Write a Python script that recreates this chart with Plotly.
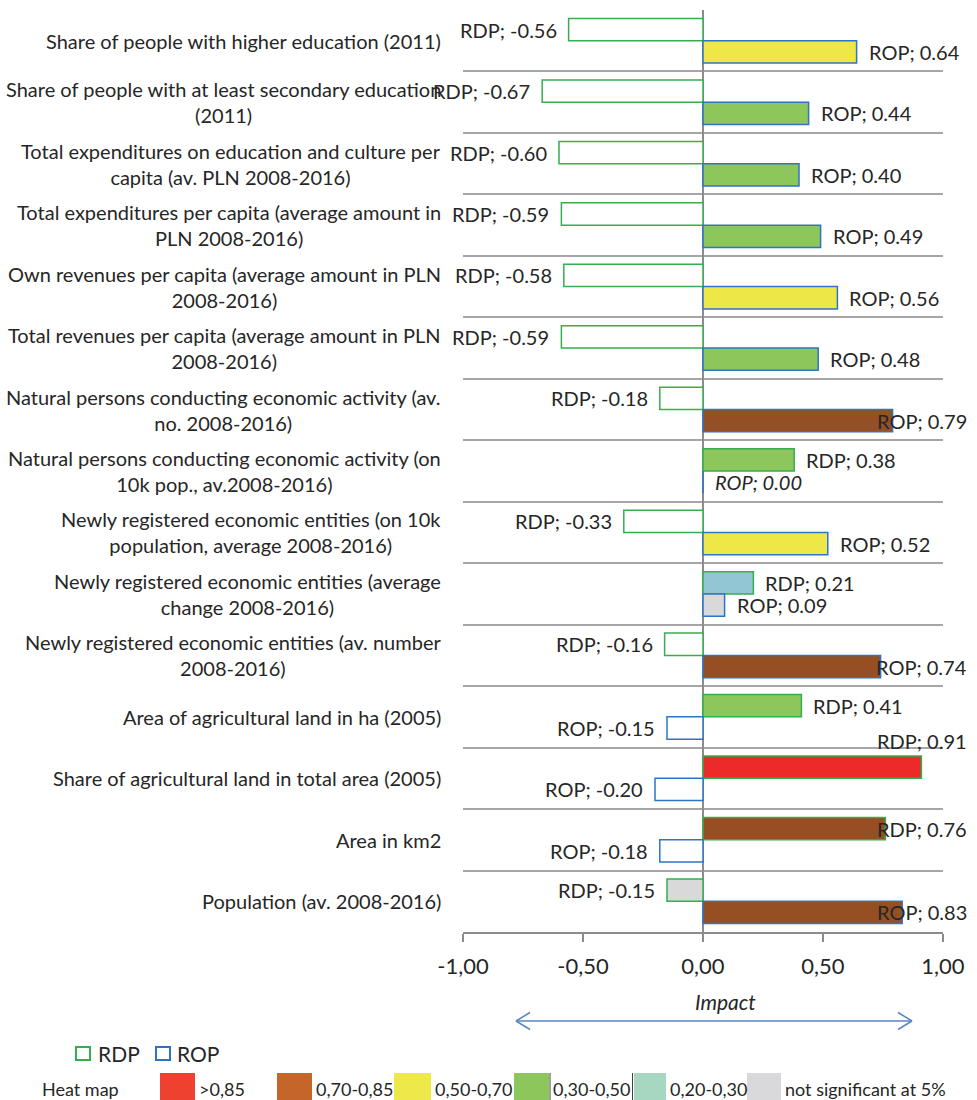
import plotly.graph_objects as go

# ---------------- data ----------------
categories = [
    "Share of people with higher education (2011)",
    "Share of people with at least secondary education<br>(2011)",
    "Total expenditures on education and culture per<br>capita (av. PLN 2008-2016)",
    "Total expenditures per capita (average amount in<br>PLN 2008-2016)",
    "Own revenues per capita (average amount in PLN<br>2008-2016)",
    "Total revenues per capita (average amount in PLN<br>2008-2016)",
    "Natural persons conducting economic activity (av.<br>no. 2008-2016)",
    "Natural persons conducting economic activity (on<br>10k pop., av.2008-2016)",
    "Newly registered economic entities (on 10k<br>population, average 2008-2016)",
    "Newly registered economic entities (average<br>change 2008-2016)",
    "Newly registered economic entities (av. number<br>2008-2016)",
    "Area of agricultural land in ha (2005)",
    "Share of agricultural land in total area (2005)",
    "Area in km2",
    "Population (av. 2008-2016)",
]
rdp_values = [-0.56, -0.67, -0.60, -0.59, -0.58, -0.59, -0.18, 0.38, -0.33, 0.21,
              -0.16, 0.41, 0.91, 0.76, -0.15]
rop_values = [0.64, 0.44, 0.40, 0.49, 0.56, 0.48, 0.79, 0.00, 0.52, 0.09,
              0.74, -0.15, -0.20, -0.18, 0.83]
rdp_class = ["neg", "neg", "neg", "neg", "neg", "neg", "neg", "0,30-0,50", "neg",
             "0,20-0,30", "neg", "0,30-0,50", ">0,85", "0,70-0,85", "ns"]
rop_class = ["0,50-0,70", "0,30-0,50", "0,30-0,50", "0,30-0,50", "0,50-0,70",
             "0,30-0,50", "0,70-0,85", "neg", "0,50-0,70", "ns", "0,70-0,85",
             "neg", "neg", "neg", "0,70-0,85"]
heat_keys = [">0,85", "0,70-0,85", "0,50-0,70", "0,30-0,50", "0,20-0,30", "ns"]
heat_labels = [">0,85", "0,70-0,85", "0,50-0,70", "0,30-0,50", "0,20-0,30",
               "not significant at 5%"]
tick_values = [-1.0, -0.5, 0.0, 0.5, 1.0]
tick_labels = ["-1,00", "-0,50", "0,00", "0,50", "1,00"]

# ---------------- styles ----------------
bar_fill = {">0,85": "#EC2A29", "0,70-0,85": "#954F23", "0,50-0,70": "#EDE847",
            "0,30-0,50": "#8DC65A", "0,20-0,30": "#93C6D4", "ns": "#D9D9D9",
            "neg": "#FFFFFF"}
legend_fill = {">0,85": "#EE4130", "0,70-0,85": "#C4662A", "0,50-0,70": "#EEE84A",
               "0,30-0,50": "#8DC65A", "0,20-0,30": "#A6D7C0", "ns": "#D9D9DB"}
RDP_LINE = "#35AE4E"
ROP_LINE = "#2F74C4"
TXT = "#262626"
GRID = "#A6A6A6"
FONT = "Lato"
NARROW = "Liberation Sans Narrow, Lato"

W, H = 977, 1100
L, R, T, B = 463, 943, 10, 932
BARGAP = 0.275


def px2x(px):
    return (px - L) / (R - L)


def py2y(py):
    return (B - py) / (B - T)


fig = go.Figure()
fig.add_trace(go.Bar(
    y=categories, x=rdp_values, orientation="h", name="RDP",
    marker=dict(color=[bar_fill[c] for c in rdp_class],
                line=dict(color=RDP_LINE, width=1.5)),
    hoverinfo="x+y",
))
fig.add_trace(go.Bar(
    y=categories, x=rop_values, orientation="h", name="ROP",
    marker=dict(color=[bar_fill[c] for c in rop_class],
                line=dict(color=ROP_LINE, width=1.5)),
    hoverinfo="x+y",
))

annotations = []
shapes = []

# category labels (right-aligned block, centred lines)
for cat in categories:
    annotations.append(dict(
        xref="paper", yref="y", x=0, y=cat, xanchor="right", yanchor="middle",
        xshift=-20, align="center", text=cat, showarrow=False,
        font=dict(family=FONT, size=20, color=TXT)))

# data labels
cat_px = (B - T) / len(categories)
offset = (1 - BARGAP) * cat_px / 4
for name, vals, ysh in (("RDP", rdp_values, offset), ("ROP", rop_values, -offset)):
    for cat, v in zip(categories, vals):
        text = f"{name}; {v:.2f}"
        if v == 0:
            text = f"<i>{text}</i>"
        extra = 0
        if v < 0:
            x, xa, xs = v, "right", -10
        elif v > 0.7:
            x, xa, xs = 1.0, "right", 26
            if v > 0.85:
                extra = 26
        else:
            x, xa, xs = v, "left", 10
        annotations.append(dict(
            xref="x", yref="y", x=x, y=cat, xanchor=xa, yanchor="middle",
            xshift=xs, yshift=ysh + extra, text=text, showarrow=False,
            font=dict(family=FONT, size=20, color=TXT)))

# axis title
annotations.append(dict(
    xref="paper", yref="paper", x=px2x(725), y=py2y(1001), xanchor="center",
    yanchor="middle", text="<i>Impact</i>", showarrow=False,
    font=dict(family=FONT, size=21, color=TXT)))

# double arrow under the axis
ARROW = "#5A86C5"
ay = 1021
shapes.append(dict(type="line", xref="paper", yref="paper", x0=px2x(516), x1=px2x(912),
                   y0=py2y(ay), y1=py2y(ay), line=dict(color=ARROW, width=1.5)))
for tip, arm in ((516, 530), (912, 898)):
    for dy in (-8.5, 8.5):
        shapes.append(dict(type="line", xref="paper", yref="paper",
                           x0=px2x(tip), x1=px2x(arm), y0=py2y(ay), y1=py2y(ay + dy),
                           line=dict(color=ARROW, width=1.5)))

# legend row 1 : RDP / ROP hollow squares
for (x0, x1, col, lab, tx) in ((76, 90, RDP_LINE, "RDP", 96), (156, 170, ROP_LINE, "ROP", 175)):
    shapes.append(dict(type="rect", xref="paper", yref="paper",
                       x0=px2x(x0), x1=px2x(x1), y0=py2y(1060), y1=py2y(1047),
                       line=dict(color=col, width=2), fillcolor="white"))
    annotations.append(dict(xref="paper", yref="paper", x=px2x(tx), y=py2y(1053),
                            xanchor="left", yanchor="middle", text=lab, showarrow=False,
                            font=dict(family=FONT, size=21, color=TXT)))

# legend row 2 : heat map key
annotations.append(dict(xref="paper", yref="paper", x=px2x(40), y=py2y(1089),
                        xanchor="left", yanchor="middle", text="Heat map", showarrow=False,
                        font=dict(family=NARROW, size=18, color=TXT)))
swatch_x = [(160, 195), (277, 312), (394, 431), (514, 549), (634, 666), (747, 781)]
for key, lab, (x0, x1) in zip(heat_keys, heat_labels, swatch_x):
    shapes.append(dict(type="rect", xref="paper", yref="paper",
                       x0=px2x(x0), x1=px2x(x1), y0=py2y(1106), y1=py2y(1073),
                       line=dict(width=0), fillcolor=legend_fill[key]))
    annotations.append(dict(xref="paper", yref="paper", x=px2x(x1 + 2), y=py2y(1089),
                            xanchor="left", yanchor="middle", text=lab, showarrow=False,
                            font=dict(family=NARROW, size=18, color=TXT)))
for sx in (550, 632.5):
    shapes.append(dict(type="line", xref="paper", yref="paper",
                       x0=px2x(sx), x1=px2x(sx), y0=py2y(1106), y1=py2y(1073),
                       line=dict(color="#404040", width=1)))

fig.update_layout(
    width=W, height=H,
    margin=dict(l=L, r=W - R, t=T, b=H - B, pad=0),
    paper_bgcolor="white", plot_bgcolor="white",
    barmode="group", bargap=BARGAP, bargroupgap=0,
    showlegend=False,
    font=dict(family=FONT, color=TXT),
    annotations=annotations, shapes=shapes,
    xaxis=dict(range=[-1, 1], tickvals=tick_values, ticktext=tick_labels,
               ticks="outside", ticklen=8, tickwidth=2, tickcolor="#8C8C8C",
               showline=True, linecolor="#8C8C8C", linewidth=2,
               showgrid=False, zeroline=True, zerolinecolor="#8C8C8C", zerolinewidth=2,
               tickfont=dict(family=FONT, size=22, color=TXT), ticklabelstandoff=6,
               fixedrange=True),
    yaxis=dict(type="category", autorange="reversed", tickson="boundaries",
               showgrid=True, gridcolor=GRID, gridwidth=2, showticklabels=False,
               ticks="", showline=False, zeroline=False, fixedrange=True),
)

fig.write_html("out.html")
